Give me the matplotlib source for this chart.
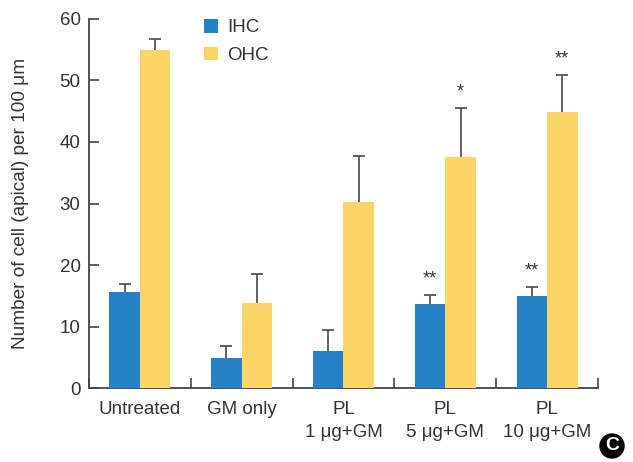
import numpy as np
import matplotlib.pyplot as plt
from matplotlib.patches import Circle

plt.rcParams['font.family'] = ['Liberation Sans', 'DejaVu Sans']

groups = ['Untreated', 'GM only', 'PL\n1 μg+GM', 'PL\n5 μg+GM', 'PL\n10 μg+GM']
ihc = [15.6, 4.9, 6.0, 13.7, 15.0]
ihc_err = [1.3, 2.0, 3.5, 1.4, 1.5]
ohc = [55.0, 13.8, 30.2, 37.6, 44.9]
ohc_err = [1.7, 4.8, 7.6, 7.9, 6.0]
ihc_sig = ['', '', '', '**', '**']
ohc_sig = ['', '', '', '*', '**']

blue = '#2682c8'
yellow = '#fcd468'
ink = '#333333'
ecol = '#555555'

fig = plt.figure(figsize=(6.33, 4.62), dpi=100)
ax = fig.add_axes([0.1406, 0.160, 0.804, 0.799])

x = np.arange(len(groups)) + 0.5
w = 0.3
ax.bar(x - w/2, ihc, w, color=blue, label='IHC', zorder=3)
ax.bar(x + w/2, ohc, w, color=yellow, label='OHC', zorder=3)

# upper error bars only
for xs, vals, errs in [(x - w/2, ihc, ihc_err), (x + w/2, ohc, ohc_err)]:
    tops = np.array(vals) + np.array(errs)
    ax.vlines(xs, vals, tops, color=ecol, lw=1.3, zorder=2)
    ax.plot(xs, tops, ls='none', marker='_', ms=8.6, mew=1.3, color=ecol, zorder=2)

for xi, v, e, s in zip(x - w/2, ihc, ihc_err, ihc_sig):
    if s:
        ax.text(xi, v + e + 2.6, s, ha='center', va='center', fontsize=13, color=ink)
for xi, v, e, s in zip(x + w/2, ohc, ohc_err, ohc_sig):
    if s:
        ax.text(xi, v + e + 2.6, s, ha='center', va='center', fontsize=13, color=ink)

ax.set_xlim(0, 5)
ax.set_ylim(0, 60)
ax.set_yticks(range(0, 61, 10))
ax.set_xticks(range(0, 6))
ax.set_xticklabels([])
ax.set_xticks(x, minor=True)
ax.set_xticklabels(groups, minor=True, fontsize=13.5, color=ink, linespacing=1.5)
ax.tick_params(axis='x', which='minor', length=0, pad=9)
ax.tick_params(axis='both', which='major', direction='in', length=7, width=1.2, color='#444444')
ax.tick_params(axis='y', labelsize=13.5, labelcolor=ink, pad=6)
for s in ['top', 'right']:
    ax.spines[s].set_visible(False)
for s in ['left', 'bottom']:
    ax.spines[s].set_color('#444444')
    ax.spines[s].set_linewidth(1.3)

ax.set_ylabel('Number of cell (apical) per 100 μm', fontsize=13.7, color=ink, labelpad=22)

ax.legend(loc='upper left', bbox_to_anchor=(0.192, 1.046), frameon=False, fontsize=13.5,
          handlelength=0.75, handleheight=0.75, handletextpad=0.5, labelspacing=0.55,
          labelcolor=ink)

fig.patches.append(Circle((612, 462 - 446), 12, transform=None, color='black'))
fig.text(612/633, 1 - 446/462, 'C', ha='center', va='center', color='white',
         fontsize=14, fontweight='bold')

fig.savefig('out.png', dpi=100)
